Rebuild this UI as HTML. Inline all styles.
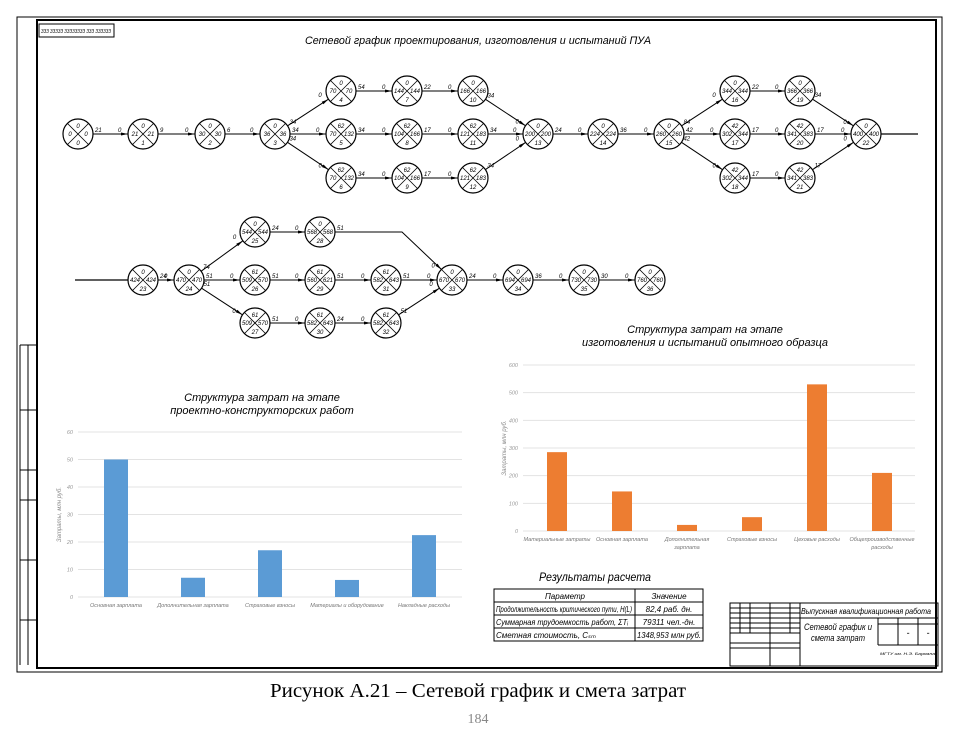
<!DOCTYPE html>
<html><head><meta charset="utf-8">
<style>
html,body{margin:0;padding:0;background:#fff;width:963px;height:738px;overflow:hidden}
svg{display:block}
text{font-family:"Liberation Sans","DejaVu Sans",sans-serif;font-style:italic}
</style></head>
<body>
<svg id="s" width="963" height="738" viewBox="0 0 963 738" xmlns="http://www.w3.org/2000/svg">
<rect x="17" y="17" width="925" height="655" fill="none" stroke="#000" stroke-width="1"/>
<rect x="37" y="20" width="899" height="648" fill="none" stroke="#000" stroke-width="2"/>
<rect x="39" y="24" width="75" height="13" fill="none" stroke="#000" stroke-width="1"/>
<text x="41" y="33" font-size="5" textLength="70" lengthAdjust="spacingAndGlyphs">ЗЗЗ ЗЗЗЗЗ ЗЗЗЗЗЗЗЗ ЗЗЗ ЗЗЗЗЗЗ</text>
<g fill="none" stroke="#000" stroke-width="1">
<line x1="20" y1="345" x2="20" y2="665"/><line x1="28" y1="345" x2="28" y2="665"/>
<line x1="20" y1="345" x2="37" y2="345"/><line x1="20" y1="410" x2="37" y2="410"/><line x1="20" y1="470" x2="37" y2="470"/><line x1="20" y1="500" x2="37" y2="500"/><line x1="20" y1="560" x2="37" y2="560"/><line x1="20" y1="620" x2="37" y2="620"/>
</g>
<text x="478" y="44" font-size="11" text-anchor="middle" textLength="346" lengthAdjust="spacingAndGlyphs">Сетевой график проектирования, изготовления и испытаний ПУА</text>
<g id="net"></g>
<g id="charts"></g>
<text x="595" y="581" font-size="12" text-anchor="middle" textLength="112" lengthAdjust="spacingAndGlyphs">Результаты расчета</text>
<g fill="none" stroke="#000" stroke-width="1">
<rect x="494" y="589" width="209" height="52"/>
<line x1="494" y1="602" x2="703" y2="602"/><line x1="494" y1="615" x2="703" y2="615"/><line x1="494" y1="628" x2="703" y2="628"/>
<line x1="635" y1="589" x2="635" y2="641"/>
</g>
<g font-size="8">
<text x="565" y="599" text-anchor="middle">Параметр</text><text x="669" y="599" text-anchor="middle">Значение</text>
<text x="496" y="612" textLength="136" lengthAdjust="spacingAndGlyphs">Продолжительность критического пути, Н(L)</text><text x="669" y="612" text-anchor="middle">82,4 раб. дн.</text>
<text x="496" y="625" textLength="132" lengthAdjust="spacingAndGlyphs">Суммарная трудоемкость работ, ΣТᵢ</text><text x="669" y="625" text-anchor="middle">79311 чел.-дн.</text>
<text x="496" y="638" textLength="100" lengthAdjust="spacingAndGlyphs">Сметная стоимость, Сₛₘ</text><text x="669" y="638" text-anchor="middle" textLength="64" lengthAdjust="spacingAndGlyphs">1348,953 млн руб.</text>
</g>
<g fill="none" stroke="#000" stroke-width="1">
<rect x="730" y="603" width="208" height="63"/>
<line x1="730" y1="618" x2="938" y2="618"/>
<line x1="800" y1="603" x2="800" y2="666"/>
<line x1="878" y1="618" x2="878" y2="645"/>
<line x1="878" y1="645" x2="938" y2="645"/>
<line x1="878" y1="624" x2="938" y2="624"/>
<line x1="898" y1="618" x2="898" y2="645"/><line x1="918" y1="618" x2="918" y2="645"/>
<line x1="730" y1="608" x2="800" y2="608"/><line x1="730" y1="613" x2="800" y2="613"/><line x1="730" y1="623" x2="800" y2="623"/><line x1="730" y1="628" x2="800" y2="628"/><line x1="730" y1="633" x2="800" y2="633"/><line x1="730" y1="643" x2="800" y2="643"/><line x1="730" y1="648" x2="800" y2="648"/>
<line x1="740" y1="603" x2="740" y2="633"/><line x1="750" y1="603" x2="750" y2="633"/><line x1="770" y1="603" x2="770" y2="666"/><line x1="790" y1="603" x2="790" y2="633"/>
</g>
<text x="866" y="614" font-size="8.5" text-anchor="middle" textLength="130" lengthAdjust="spacingAndGlyphs">Выпускная квалификационная работа</text>
<text x="838" y="630" font-size="9" text-anchor="middle" textLength="68" lengthAdjust="spacingAndGlyphs">Сетевой график и</text>
<text x="838" y="641" font-size="9" text-anchor="middle" textLength="54" lengthAdjust="spacingAndGlyphs">смета затрат</text>
<text x="908" y="636" font-size="9" text-anchor="middle">-</text><text x="928" y="636" font-size="9" text-anchor="middle">-</text>
<text x="880" y="655" font-size="4" textLength="55" lengthAdjust="spacingAndGlyphs">МГТУ им. Н.Э. Баумана</text>
<text x="478" y="697" font-size="20" text-anchor="middle" textLength="416" lengthAdjust="spacingAndGlyphs" style="font-family:'Liberation Serif',serif;font-style:normal">Рисунок А.21 – Сетевой график и смета затрат</text>
<text x="478" y="723" font-size="14" text-anchor="middle" fill="#888" style="font-family:'Liberation Serif',serif;font-style:normal">184</text>
</svg>
<script>
var NS="http://www.w3.org/2000/svg";
function el(p,t,a,tx){var e=document.createElementNS(NS,t);for(var k in a)e.setAttribute(k,a[k]);if(tx!==undefined)e.textContent=tx;p.appendChild(e);return e;}
var net=document.getElementById('net');
var R=15;
var nodes={
0:[78,134,'0','0','0','0'],1:[143,134,'0','21','21','1'],2:[210,134,'0','30','30','2'],3:[275,134,'0','36','36','3'],
4:[341,91,'0','70','70','4'],5:[341,134,'62','70','132','5'],6:[341,178,'62','70','132','6'],
7:[407,91,'0','144','144','7'],8:[407,134,'62','104','166','8'],9:[407,178,'62','104','166','9'],
10:[473,91,'0','166','166','10'],11:[473,134,'62','121','183','11'],12:[473,178,'62','121','183','12'],
13:[538,134,'0','200','200','13'],14:[603,134,'0','224','224','14'],15:[669,134,'0','260','260','15'],
16:[735,91,'0','344','344','16'],17:[735,134,'42','302','344','17'],18:[735,178,'42','302','344','18'],
19:[800,91,'0','366','366','19'],20:[800,134,'42','341','383','20'],21:[800,178,'42','341','383','21'],
22:[866,134,'0','400','400','22'],
23:[143,280,'0','424','424','23'],24:[189,280,'0','470','470','24'],
25:[255,232,'0','544','544','25'],26:[255,280,'61','509','570','26'],27:[255,323,'61','509','570','27'],
28:[320,232,'0','568','568','28'],29:[320,280,'61','560','621','29'],30:[320,323,'61','582','643','30'],
31:[386,280,'61','582','643','31'],32:[386,323,'61','582','643','32'],
33:[452,280,'0','670','670','33'],34:[518,280,'0','694','694','34'],35:[584,280,'0','730','730','35'],36:[650,280,'0','760','760','36']};
var edges=[[0,1],[1,2],[2,3],[3,4],[3,5],[3,6],[4,7],[5,8],[6,9],[7,10],[8,11],[9,12],[10,13],[11,13],[12,13],[13,14],[14,15],[15,16],[15,17],[15,18],[16,19],[17,20],[18,21],[19,22],[20,22],[21,22],
[23,24],[24,25],[24,26],[24,27],[25,28],[26,29],[27,30],[29,31],[30,32],[28,33],[31,33],[32,33],[33,34],[34,35],[35,36]];
var lbl=['21','9','6','34','34','34','54','34','34','22','17','17','34','34','34','24','36','84','42','42','22','17','17','34','17','17','24','74','51','51','24','51','51','51','24','51','51','51','24','36','30'];
edges.forEach(function(e,i){var a=nodes[e[0]],b=nodes[e[1]];
 var x1=a[0],y1=a[1],x2=b[0],y2=b[1];
 var pts;
 if(e[0]==28&&e[1]==33){pts=[[x1+R,y1],[402,y1],[x2-R*0.7,y2-R*0.7]];}
 else{var dx=x2-x1,dy=y2-y1,L=Math.hypot(dx,dy);pts=[[x1+dx/L*R,y1+dy/L*R],[x2-dx/L*R,y2-dy/L*R]];}
 el(net,'polyline',{points:pts.map(function(p){return p.join(',')}).join(' '),fill:'none',stroke:'#000','stroke-width':1});
 var p=pts[pts.length-1],q=pts[pts.length-2];var ang=Math.atan2(p[1]-q[1],p[0]-q[0]);
 var ax=p[0]-7*Math.cos(ang),ay=p[1]-7*Math.sin(ang);
 el(net,'polygon',{points:p[0]+','+p[1]+' '+(ax-1.5*Math.sin(ang))+','+(ay+1.5*Math.cos(ang))+' '+(ax+1.5*Math.sin(ang))+','+(ay-1.5*Math.cos(ang)),fill:'#000'});
 el(net,'text',{x:pts[0][0]+2,y:pts[0][1]-2,'font-size':6},lbl[i]||'');
 el(net,'text',{x:p[0]-10,y:p[1]-2,'font-size':6},'0');
});
el(net,'line',{x1:881,y1:134,x2:918,y2:134,stroke:'#000','stroke-width':1.2});
el(net,'line',{x1:75,y1:280,x2:128,y2:280,stroke:'#000','stroke-width':1.2});
for(var k in nodes){var n=nodes[k],x=n[0],y=n[1];
 el(net,'circle',{cx:x,cy:y,r:R,fill:'#fff',stroke:'#000','stroke-width':1.2});
 var d=R*0.707;
 el(net,'line',{x1:x-d,y1:y-d,x2:x+d,y2:y+d,stroke:'#000','stroke-width':0.8});
 el(net,'line',{x1:x-d,y1:y+d,x2:x+d,y2:y-d,stroke:'#000','stroke-width':0.8});
 el(net,'text',{x:x,y:y-6,'font-size':6,'text-anchor':'middle'},n[2]);
 el(net,'text',{x:x-8,y:y+2,'font-size':6,'text-anchor':'middle'},n[3]);
 el(net,'text',{x:x+8,y:y+2,'font-size':6,'text-anchor':'middle'},n[4]);
 el(net,'text',{x:x,y:y+11,'font-size':6,'text-anchor':'middle'},n[5]);
}
var ch=document.getElementById('charts');
function chart(o){
 el(ch,'text',{x:o.tx,y:o.ty,'font-size':11,'text-anchor':'middle'},o.t1);
 el(ch,'text',{x:o.tx,y:o.ty+13,'font-size':11,'text-anchor':'middle'},o.t2);
 for(var i=0;i<=6;i++){var y=o.y0-(o.y0-o.y1)*i/6;
  el(ch,'line',{x1:o.xa,y1:y,x2:o.xb,y2:y,stroke:'#e3e3e3','stroke-width':1});
  el(ch,'text',{x:o.xa-5,y:y+2,'font-size':5.5,fill:'#999','text-anchor':'end'},String(o.max*i/6));}
 o.v.forEach(function(v,i){var h=(o.y0-o.y1)*v/o.max;
  el(ch,'rect',{x:o.cx[i]-o.w/2,y:o.y0-h,width:o.w,height:h,fill:o.c});
  var ls=o.l[i].split('|');ls.forEach(function(s,j){el(ch,'text',{x:o.cx[i],y:o.y0+10+j*8,'font-size':5.5,fill:'#777','text-anchor':'middle'},s);});});
 el(ch,'text',{x:0,y:0,'font-size':6,fill:'#888','text-anchor':'middle',transform:'translate('+(o.xa-17)+','+((o.y0+o.y1)/2)+') rotate(-90)'},'Затраты, млн руб.');
}
chart({tx:262,ty:401,t1:'Структура затрат на этапе',t2:'проектно-конструкторских работ',y0:597,y1:432,xa:78,xb:462,max:60,
 v:[50,7,17,6.2,22.5],cx:[116,193,270,347,424],w:24,c:'#5b9bd5',
 l:['Основная зарплата','Дополнительная зарплата','Страховые взносы','Материалы и оборудование','Накладные расходы']});
chart({tx:705,ty:333,t1:'Структура затрат на этапе',t2:'изготовления и испытаний опытного образца',y0:531,y1:365,xa:523,xb:915,max:600,
 v:[285,143,22,50,530,210],cx:[557,622,687,752,817,882],w:20,c:'#ed7d31',
 l:['Материальные затраты','Основная зарплата','Дополнительная|зарплата','Страховые взносы','Цеховые расходы','Общепроизводственные|расходы']});
</script>
</body></html>
